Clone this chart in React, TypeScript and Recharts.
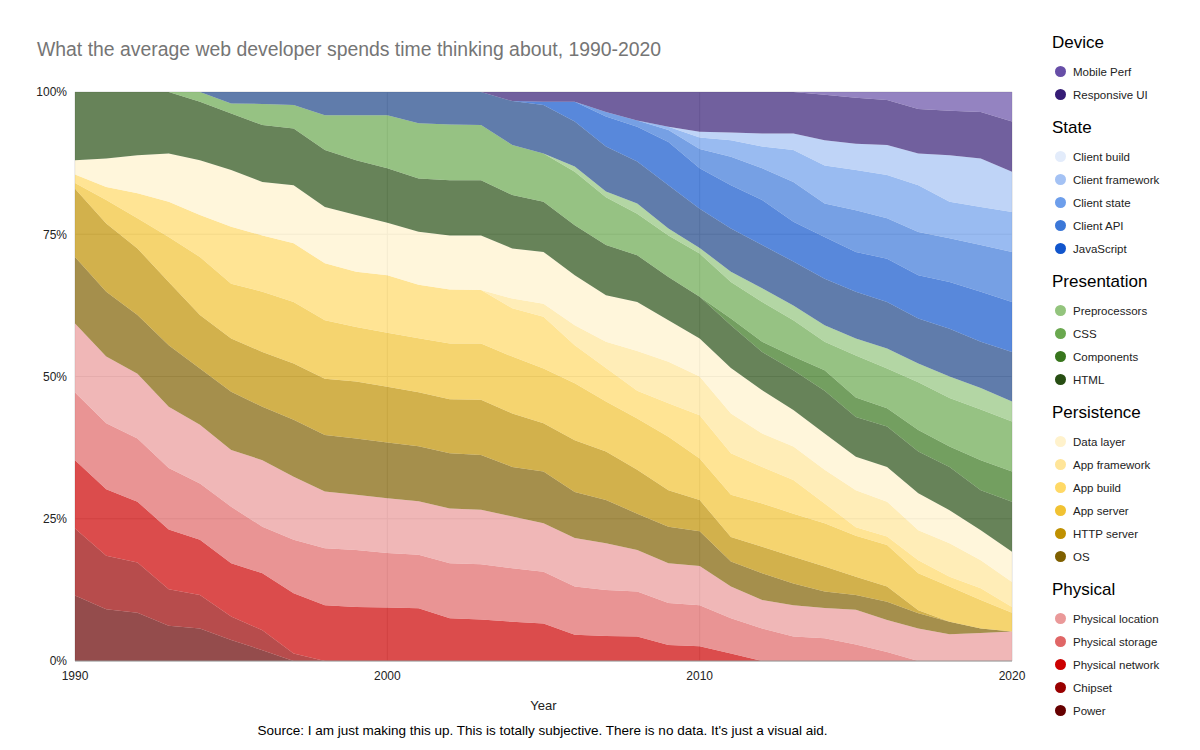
import { AreaChart, Area, XAxis, YAxis, CartesianGrid } from 'recharts';

// one value per year, 1990 -> 2020 (share of attention, %)
const years = [
  1990, 1991, 1992, 1993, 1994, 1995, 1996, 1997, 1998, 1999, 2000, 2001, 2002, 2003, 2004, 2005,
  2006, 2007, 2008, 2009, 2010, 2011, 2012, 2013, 2014, 2015, 2016, 2017, 2018, 2019, 2020,
];

const power = [11.5, 9.1, 8.5, 6.2, 5.7, 3.7, 1.9, 0, 0, 0, 0, 0, 0, 0, 0, 0, 0, 0, 0, 0, 0, 0, 0, 0, 0, 0, 0, 0, 0, 0, 0];
const chipset = [11.8, 9.4, 8.8, 6.4, 5.9, 4.1, 3.5, 1.3, 0, 0, 0, 0, 0, 0, 0, 0, 0, 0, 0, 0, 0, 0, 0, 0, 0, 0, 0, 0, 0, 0, 0];
const physicalNetwork = [12.0, 11.7, 10.7, 10.5, 9.7, 9.4, 10.0, 10.6, 9.8, 9.5, 9.4, 9.3, 7.5, 7.3, 6.9, 6.6, 4.6, 4.4, 4.3, 2.8, 2.6, 1.3, 0, 0, 0, 0, 0, 0, 0, 0, 0];
const physicalStorage = [11.9, 11.6, 11.1, 10.8, 9.9, 9.9, 8.2, 9.4, 10.0, 10.0, 9.6, 9.4, 9.7, 9.7, 9.4, 9.1, 8.5, 8.1, 7.9, 7.4, 7.2, 6.2, 5.7, 4.3, 4.0, 2.9, 1.6, 0, 0, 0, 0];
const physicalLocation = [12.1, 11.7, 11.4, 10.8, 10.3, 10.0, 11.7, 11.1, 10.0, 9.7, 9.6, 9.4, 9.6, 9.6, 9.1, 8.5, 8.5, 8.2, 7.3, 7.0, 6.9, 5.6, 5.0, 5.5, 5.3, 6.1, 5.6, 5.7, 4.7, 4.9, 5.2];
const os = [11.7, 11.4, 10.3, 10.8, 9.9, 10.2, 9.4, 10.0, 9.9, 9.9, 9.8, 9.7, 9.7, 9.6, 8.7, 9.1, 8.1, 7.6, 6.4, 6.4, 6.1, 4.4, 4.7, 3.8, 2.9, 2.6, 3.2, 2.7, 2.2, 0.8, 0];
const httpServer = [12.0, 12.0, 11.7, 11.1, 9.4, 9.4, 9.6, 9.9, 9.9, 10.0, 9.8, 9.5, 9.5, 9.7, 9.4, 8.5, 9.1, 8.5, 7.7, 6.4, 5.5, 4.3, 4.7, 4.7, 4.4, 3.2, 2.7, 0.5, 0, 0, 0];
const appServer = [1.0, 4.1, 5.3, 7.9, 10.2, 9.6, 10.6, 10.8, 10.3, 9.6, 9.5, 9.5, 9.8, 9.9, 10.0, 9.6, 10.0, 8.8, 9.0, 9.4, 7.3, 7.4, 7.6, 7.6, 7.6, 7.2, 7.3, 6.5, 6.2, 5.0, 3.3];
const appBuild = [1.5, 2.3, 4.4, 6.2, 7.4, 10.0, 9.9, 10.3, 10.0, 9.7, 10.1, 9.4, 9.5, 9.4, 8.5, 9.1, 6.7, 5.9, 4.9, 5.9, 7.6, 7.3, 6.4, 5.9, 3.5, 1.5, 1.5, 2.3, 1.7, 2.1, 1.0];
const appFramework = [0, 0, 0, 0, 0, 0, 0, 0, 0, 0, 0, 0, 0, 0, 1.7, 2.3, 3.5, 4.6, 7.0, 7.3, 6.8, 7.0, 5.9, 5.9, 5.9, 6.5, 6.1, 5.3, 5.9, 4.9, 4.4];
const dataLayer = [2.5, 5.0, 6.7, 8.5, 9.6, 10.0, 9.4, 10.2, 9.9, 10.0, 9.2, 9.3, 9.5, 9.6, 8.8, 9.1, 8.8, 8.2, 8.6, 7.3, 6.7, 8.0, 7.6, 6.4, 6.4, 5.9, 6.1, 6.5, 5.8, 5.3, 5.3];
const html = [12.0, 11.7, 11.1, 10.8, 10.3, 9.9, 10.0, 10.0, 10.0, 9.6, 9.6, 9.4, 9.7, 9.7, 9.4, 8.8, 8.8, 8.8, 8.2, 7.6, 7.3, 7.5, 6.7, 7.0, 7.5, 7.0, 7.1, 7.3, 7.6, 7.0, 8.8];
const components = [0, 0, 0, 0, 0, 0, 0, 0, 0, 0, 0, 0, 0, 0, 0, 0, 0, 0, 0, 0, 0, 1.2, 1.8, 2.4, 3.6, 3.4, 3.2, 3.8, 3.6, 5.3, 5.3];
const css = [0, 0, 0, 0, 1.7, 1.8, 3.7, 4.1, 6.1, 7.9, 9.3, 9.7, 9.8, 9.7, 8.8, 8.5, 9.4, 8.4, 7.3, 7.3, 7.6, 6.4, 7.0, 6.4, 5.0, 7.4, 7.0, 8.4, 8.5, 8.9, 8.8];
const preprocessors = [0, 0, 0, 0, 0, 0, 0, 0, 0, 0, 0, 0, 0, 0, 0, 0, 0.9, 1.0, 1.8, 1.2, 1.0, 1.8, 2.4, 2.6, 2.9, 3.0, 3.5, 3.3, 3.8, 3.8, 3.5];
const javaScript = [0, 0, 0, 0, 0, 2.0, 2.1, 2.3, 4.1, 4.1, 4.1, 5.5, 5.7, 5.8, 7.7, 8.5, 7.9, 7.9, 7.4, 7.6, 6.9, 7.6, 7.6, 7.7, 8.2, 8.2, 8.2, 7.9, 8.4, 8.1, 8.7];
const clientApi = [0, 0, 0, 0, 0, 0, 0, 0, 0, 0, 0, 0, 0, 0, 0, 0.6, 3.5, 5.3, 6.1, 7.6, 7.1, 7.6, 7.9, 7.0, 7.3, 7.0, 7.6, 7.6, 8.2, 8.8, 8.8];
const clientState = [0, 0, 0, 0, 0, 0, 0, 0, 0, 0, 0, 0, 0, 0, 0, 0, 0, 0.8, 1.1, 2.1, 3.4, 5.0, 5.6, 7.0, 5.9, 7.3, 7.1, 7.6, 7.7, 8.2, 8.8];
const clientFramework = [0, 0, 0, 0, 0, 0, 0, 0, 0, 0, 0, 0, 0, 0, 0, 0, 0, 0, 0, 0.6, 2.0, 2.9, 3.8, 5.6, 6.7, 7.1, 7.6, 8.2, 6.4, 6.7, 7.0];
const clientBuild = [0, 0, 0, 0, 0, 0, 0, 0, 0, 0, 0, 0, 0, 0, 0, 0, 0, 0, 0, 0, 1.0, 1.4, 2.3, 2.9, 4.4, 4.6, 5.3, 5.6, 8.2, 8.5, 7.1];
const responsiveUi = [0, 0, 0, 0, 0, 0, 0, 0, 0, 0, 0, 0, 0, 0, 1.6, 1.7, 1.7, 3.5, 5.0, 6.1, 7.0, 7.1, 7.3, 7.3, 8.0, 8.1, 7.9, 7.8, 7.8, 8.2, 8.8];
const mobilePerf = [0, 0, 0, 0, 0, 0, 0, 0, 0, 0, 0, 0, 0, 0, 0, 0, 0, 0, 0, 0, 0, 0, 0, 0, 0.5, 1.0, 1.4, 3.0, 3.3, 3.5, 5.2];

type Series = { key: string; name: string; values: number[]; fill: string; swatch: string };

// bottom of the stack first
const SERIES: Series[] = [
  { key: 'power', name: 'Power', values: power, fill: '#660000', swatch: '#660000' },
  { key: 'chipset', name: 'Chipset', values: chipset, fill: '#990000', swatch: '#990000' },
  { key: 'physicalNetwork', name: 'Physical network', values: physicalNetwork, fill: '#cc0000', swatch: '#cc0000' },
  { key: 'physicalStorage', name: 'Physical storage', values: physicalStorage, fill: '#e06666', swatch: '#e06666' },
  { key: 'physicalLocation', name: 'Physical location', values: physicalLocation, fill: '#ea9999', swatch: '#ea9999' },
  { key: 'os', name: 'OS', values: os, fill: '#7f6000', swatch: '#7f6000' },
  { key: 'httpServer', name: 'HTTP server', values: httpServer, fill: '#bf9000', swatch: '#bf9000' },
  { key: 'appServer', name: 'App server', values: appServer, fill: '#f1c232', swatch: '#f1c232' },
  { key: 'appBuild', name: 'App build', values: appBuild, fill: '#ffd966', swatch: '#ffd966' },
  { key: 'appFramework', name: 'App framework', values: appFramework, fill: '#ffe599', swatch: '#ffe599' },
  { key: 'dataLayer', name: 'Data layer', values: dataLayer, fill: '#fff2cc', swatch: '#fff2cc' },
  { key: 'html', name: 'HTML', values: html, fill: '#274e13', swatch: '#274e13' },
  { key: 'components', name: 'Components', values: components, fill: '#38761d', swatch: '#38761d' },
  { key: 'css', name: 'CSS', values: css, fill: '#6aa84f', swatch: '#6aa84f' },
  { key: 'preprocessors', name: 'Preprocessors', values: preprocessors, fill: '#93c47d', swatch: '#93c47d' },
  { key: 'javaScript', name: 'JavaScript', values: javaScript, fill: '#1c4587', swatch: '#1155cc' },
  { key: 'clientApi', name: 'Client API', values: clientApi, fill: '#1155cc', swatch: '#3c78d8' },
  { key: 'clientState', name: 'Client state', values: clientState, fill: '#3c78d8', swatch: '#6d9eeb' },
  { key: 'clientFramework', name: 'Client framework', values: clientFramework, fill: '#6d9eeb', swatch: '#a4c2f4' },
  { key: 'clientBuild', name: 'Client build', values: clientBuild, fill: '#a4c2f4', swatch: '#e3ecfb' },
  { key: 'responsiveUi', name: 'Responsive UI', values: responsiveUi, fill: '#351c75', swatch: '#351c75' },
  { key: 'mobilePerf', name: 'Mobile Perf', values: mobilePerf, fill: '#674ea7', swatch: '#674ea7' },
];

const GROUPS = [
  { title: 'Device', keys: ['mobilePerf', 'responsiveUi'] },
  { title: 'State', keys: ['clientBuild', 'clientFramework', 'clientState', 'clientApi', 'javaScript'] },
  { title: 'Presentation', keys: ['preprocessors', 'css', 'components', 'html'] },
  { title: 'Persistence', keys: ['dataLayer', 'appFramework', 'appBuild', 'appServer', 'httpServer', 'os'] },
  { title: 'Physical', keys: ['physicalLocation', 'physicalStorage', 'physicalNetwork', 'chipset', 'power'] },
];

const rows = years.map((year, i) => {
  const row: Record<string, number> = { year };
  SERIES.forEach((s) => {
    row[s.key] = s.values[i];
  });
  return row;
});

const FONT = '"Liberation Sans", Arial, Helvetica, sans-serif';

function SideLegend() {
  return (
    <div style={{ position: 'absolute', left: 1052, top: 30, width: 148 }}>
      {GROUPS.map((g) => (
        <div key={g.title} style={{ marginBottom: 9 }}>
          <div style={{ fontSize: 17, lineHeight: '26px', height: 26, color: '#000', marginBottom: 4 }}>
            {g.title}
          </div>
          {g.keys.map((k) => {
            const s = SERIES.find((x) => x.key === k)!;
            return (
              <div key={k} style={{ height: 23, display: 'flex', alignItems: 'center' }}>
                <span
                  style={{
                    display: 'inline-block',
                    width: 11,
                    height: 11,
                    borderRadius: '50%',
                    background: s.swatch,
                    marginLeft: 3,
                    marginRight: 7,
                  }}
                />
                <span style={{ fontSize: 11.5, color: '#222', whiteSpace: 'nowrap' }}>{s.name}</span>
              </div>
            );
          })}
        </div>
      ))}
    </div>
  );
}

export default function App() {
  return (
    <div
      style={{
        position: 'absolute',
        left: 0,
        top: 0,
        width: 1200,
        height: 750,
        background: '#fff',
        fontFamily: FONT,
      }}
    >
      <div style={{ position: 'absolute', left: 37, top: 39, fontSize: 19.4, lineHeight: '20px', color: '#757575', whiteSpace: 'nowrap' }}>
        What the average web developer spends time thinking about, 1990-2020
      </div>

      <AreaChart
        width={1200}
        height={750}
        data={rows}
        stackOffset="expand"
        margin={{ top: 92, right: 188, bottom: 59, left: 0 }}
      >
        <CartesianGrid stroke="#dadada" />
        <XAxis
          dataKey="year"
          type="number"
          domain={[1990, 2020]}
          ticks={[1990, 2000, 2010, 2020]}
          interval={0}
          height={30}
          tickLine={false}
          tickMargin={4}
          axisLine={{ stroke: '#999' }}
          tick={{ fill: '#222', fontSize: 12 }}
        />
        <YAxis
          width={75}
          domain={[0, 1]}
          ticks={[0, 0.25, 0.5, 0.75, 1]}
          interval={0}
          tickFormatter={(v: number) => `${Math.round(v * 100)}%`}
          tickLine={false}
          axisLine={false}
          tick={{ fill: '#222', fontSize: 12 }}
        />
        {SERIES.map((s) => (
          <Area
            key={s.key}
            dataKey={s.key}
            name={s.name}
            stackId="1"
            type="linear"
            stroke="none"
            fill={s.fill}
            fillOpacity={0.7}
            dot={false}
            activeDot={false}
            isAnimationActive={false}
          />
        ))}
      </AreaChart>

      <div style={{ position: 'absolute', left: 0, width: 1087, top: 699, textAlign: 'center', fontSize: 13, lineHeight: '13px', color: '#222' }}>
        Year
      </div>
      <div style={{ position: 'absolute', left: 0, width: 1085, top: 724, textAlign: 'center', fontSize: 13.5, lineHeight: '13px', color: '#000', whiteSpace: 'nowrap' }}>
        Source: I am just making this up. This is totally subjective. There is no data. It's just a visual aid.
      </div>

      <SideLegend />
    </div>
  );
}
